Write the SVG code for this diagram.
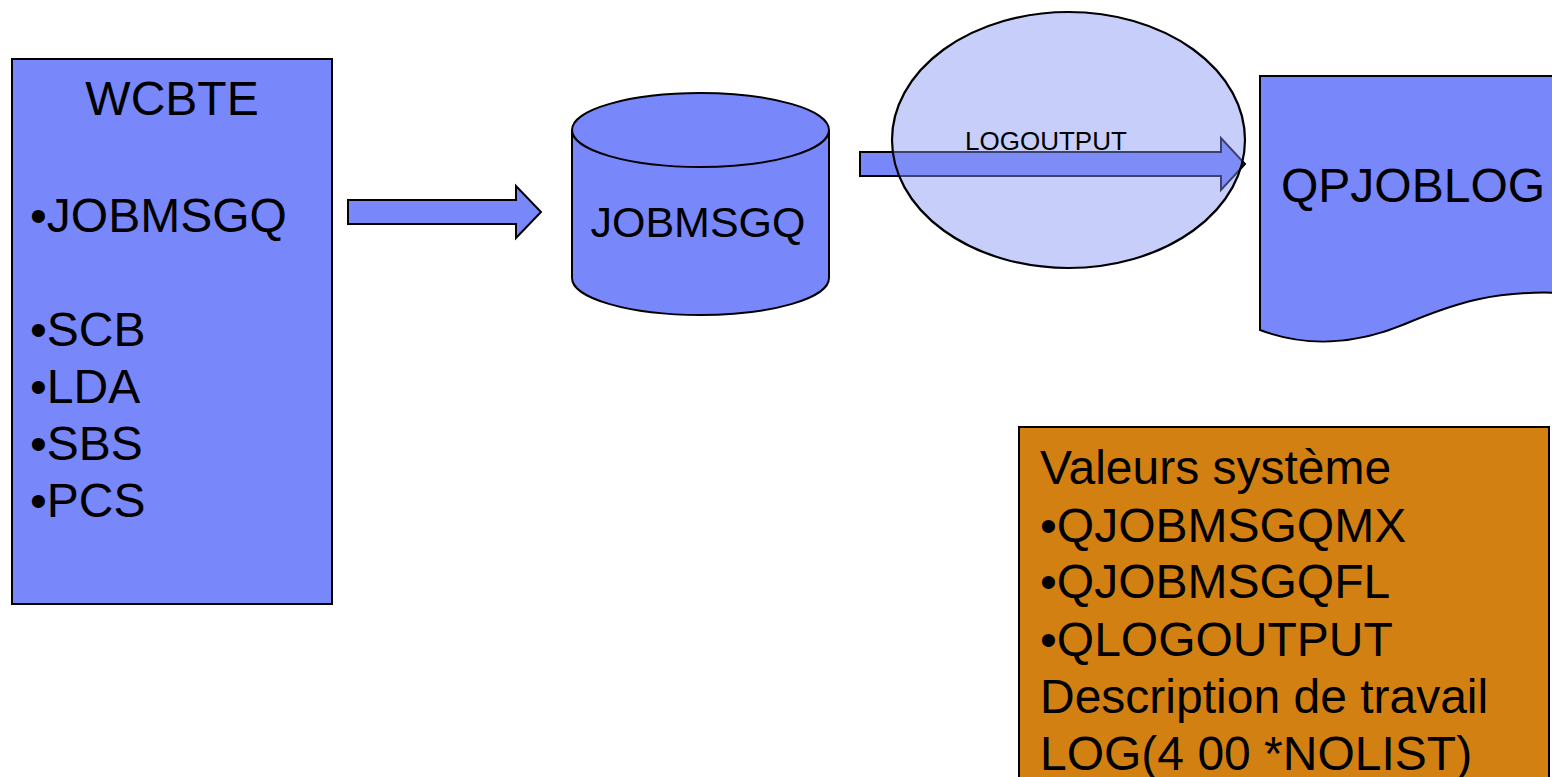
<svg xmlns="http://www.w3.org/2000/svg" width="1552" height="777" viewBox="0 0 1552 777">
<style>
.shape{fill:#7887F9;stroke:#000;stroke-width:2}
.t{font-family:"Liberation Sans",Arial,sans-serif;fill:#000}
.big{font-size:48px}
.mid{font-size:43px}
.small{font-size:26px}
</style>
<rect width="1552" height="777" fill="#fff"/>
<g id="wcbte">
<rect class="shape" x="12" y="59" width="320" height="545"/>
<text class="t big" x="172" y="115" text-anchor="middle">WCBTE</text>
<text class="t big" x="30" y="232">•JOBMSGQ</text>
<text class="t big" x="30" y="346">•SCB</text>
<text class="t big" x="30" y="403">•LDA</text>
<text class="t big" x="30" y="460">•SBS</text>
<text class="t big" x="30" y="517">•PCS</text>
</g>
<g id="jobmsgq">
<path class="shape" d="M572,130 L572,278 A128.5,37 0 0 0 829,278 L829,130"/>
<ellipse class="shape" cx="700.5" cy="130" rx="128.5" ry="37"/>
<text class="t mid" x="698" y="237" text-anchor="middle">JOBMSGQ</text>
</g>
<g id="qpjoblog">
<path class="shape" d="M1260,76 L1562,76 L1562,293 C1495,290 1455,303 1405,324 C1355,345 1305,347 1260,330 Z"/>
<text class="t big" x="1281" y="202">QPJOBLOG</text>
</g>
<g id="sysvals">
<rect x="1019" y="427" width="530" height="360" fill="#D38012" stroke="#000" stroke-width="2"/>
<text class="t big" x="1040" y="484">Valeurs système</text>
<text class="t big" x="1040" y="542">•QJOBMSGQMX</text>
<text class="t big" x="1040" y="598">•QJOBMSGQFL</text>
<text class="t big" x="1040" y="656">•QLOGOUTPUT</text>
<text class="t big" x="1040" y="713">Description de travail</text>
<text class="t big" x="1040" y="770">LOG(4 00 *NOLIST)</text>
</g>
<g id="connectors">
<path class="shape" d="M348,200 L516,200 L516,186 L541,212 L516,238 L516,224 L348,224 Z"/>
<path class="shape" d="M860,152 L1221,152 L1221,138 L1245,164 L1221,190 L1221,176 L860,176 Z"/>
</g>
<g id="logoutput">
<ellipse cx="1068.5" cy="140" rx="176.5" ry="128" fill="#8593F4" fill-opacity="0.45" stroke="#000" stroke-width="2.2"/>
<text class="t small" x="965" y="150">LOGOUTPUT</text>
</g>
</svg>
